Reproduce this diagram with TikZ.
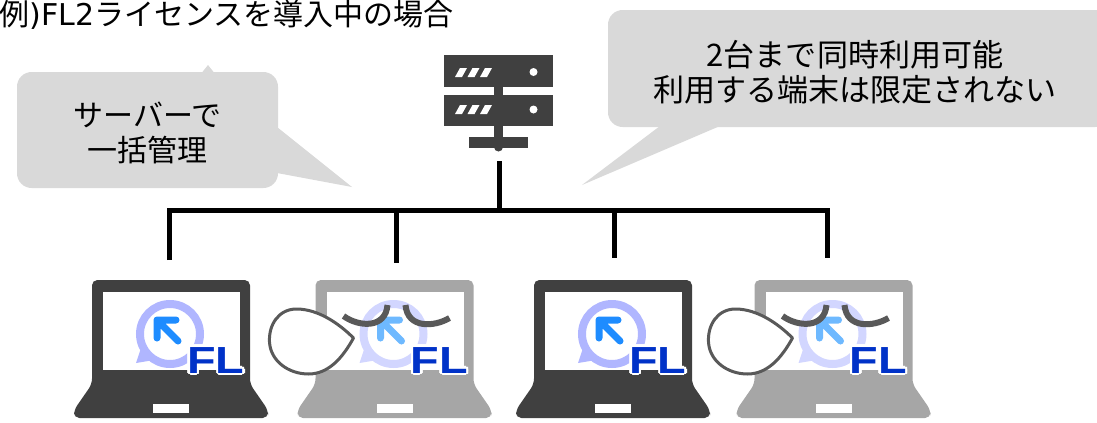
\documentclass[tikz,border=0pt]{standalone}
\usepackage{fontspec}
\usepackage{graphicx}
\newfontfamily\jpfont{Noto Sans CJK JP}
\newfontfamily\latinfont{DejaVu Sans}
\newfontfamily\logofont{Liberation Sans}

\definecolor{laptopdark}{RGB}{64,64,64}
\definecolor{laptoplight}{RGB}{166,166,166}
\definecolor{calloutgray}{RGB}{217,217,217}
\definecolor{sleepgray}{RGB}{89,89,89}
\definecolor{ringblue}{RGB}{176,182,255}
\definecolor{ringfaint}{RGB}{210,214,255}
\definecolor{arrowblue}{RGB}{30,140,255}
\definecolor{arrowfaint}{RGB}{110,185,255}
\definecolor{flblue}{RGB}{0,50,200}

\tikzset{
  wire/.style={line width=3.75pt, black, line join=miter},
  jptext/.style={font=\jpfont\fontsize{22.5}{26.6}\selectfont, inner sep=0pt, text=black},
  jptextlarge/.style={font=\jpfont\fontsize{23.3}{26.6}\selectfont, inner sep=0pt, text=black},
  callout/.style={fill=calloutgray},
  fltext/.style={anchor=base west, inner sep=0pt,
    font=\logofont\bfseries\fontsize{28.3}{30}\selectfont},
  % laptop body; origin at (centre x, 0), y measured downwards
  pics/laptop/.style={code={
    \fill[#1, rounded corners=4pt] (-97,418) -- (-97,410) -- (-79,384) -- (-79,280)
      -- (79,280) -- (79,384) -- (97,410) -- (97,418) -- cycle;
    \fill[white] (-68,292) rectangle (69,370);
    \fill[white] (-18,404) rectangle (18,413);
  }},
  % FL application logo on the screen
  pics/fllogo/.style 2 args={code={
    \begin{scope}[shift={(-1,334)}]
      \draw[#1, line width=6pt] (0,0) circle (30);
      \fill[#1] (-28,11) -- (-16,26) -- (-34,29) -- cycle;
      \draw[#2, line width=5.25pt, line cap=round, line join=round]
        (6,-14) -- (-13,-14) -- (-13,4) (-13,-14) -- (8,7);
    \end{scope}
    \foreach \dx/\dy in {2.5/0,-2.5/0,0/2.5,0/-2.5,1.8/1.8,-1.8/1.8,1.8/-1.8,-1.8/-1.8}
      \node[fltext, text=white] at (16+\dx,373+\dy) {\scalebox{1.24}[1]{FL}};
    \node[fltext, text=flblue] at (16,373) {\scalebox{1.24}[1]{FL}};
  }},
  % closed eyes of an idle machine
  pics/sleepeyes/.style={code={
    \draw[sleepgray, line width=4.5pt]
      (-51,316) .. controls (-36,327) and (-9,329) .. (-7,305);
    \draw[sleepgray, line width=4.5pt]
      (11,305) .. controls (13,329) and (40,327) .. (55,318);
  }},
  % snore bubble
  pics/snore/.style={code={
    \draw[sleepgray, fill=white, line width=2.25pt, line join=round]
      (-41,338) .. controls (-55,324) and (-76,309) .. (-98,309)
      .. controls (-116,309) and (-126,325) .. (-125,342)
      .. controls (-124,361) and (-106,374) .. (-86,374)
      .. controls (-66,374) and (-52,358) .. (-41,338) -- cycle;
  }},
}

\begin{document}
\begin{tikzpicture}[x=0.75pt, y=-0.75pt]
  \useasboundingbox (0,0) rectangle (1097,422);

  % title
  \node[jptext, anchor=base east] (title) at (454,25.5)
    {例{\latinfont)FL2}ライセンスを導入中の場合};

  % callouts
  \fill[callout, rounded corners=11pt] (17,72) rectangle (278,188);
  \fill[callout] (202,72.5) -- (208,65) -- (214,72.5) -- cycle;
  \fill[callout] (277,127) -- (352,187) -- (277,173) -- cycle;
  \node[jptext, align=center] (lnote) at (147.5,133) {サーバーで\\一括管理};

  \fill[callout, rounded corners=11pt] (608,10) rectangle (1110,127);
  \fill[callout] (660,126) -- (582,185) -- (720,126) -- cycle;
  \node[jptextlarge, align=center] (rnote) at (855,72) {2台まで同時利用可能\\利用する端末は限定されない};

  % license server
  \fill[laptopdark] (444,55) rectangle (553,87);
  \fill[laptopdark] (444,95) rectangle (553,126);
  \fill[laptopdark] (494,86) rectangle (503,96);
  \fill[laptopdark] (494,125) rectangle (503,146);
  \fill[laptopdark] (469,137) rectangle (528,148);
  \fill[laptopdark] (498.5,147) circle (4.5);
  \foreach \sy in {68,105}
    \foreach \sx in {455,467.5,480}
      \fill[white] (\sx,\sy+9) -- (\sx+7,\sy+9) -- (\sx+12,\sy) -- (\sx+5,\sy) -- cycle;
  \fill[white] (533.5,72) circle (4);
  \fill[white] (533.5,109.5) circle (4);

  % network tree
  \coordinate (srvfoot) at (499,161);
  \coordinate (bus) at (499,210.5);
  \coordinate (pc1) at (169,260);
  \coordinate (pc2) at (396.5,263);
  \coordinate (pc3) at (614.5,258);
  \coordinate (pc4) at (827,258);
  \draw[wire] (srvfoot) -- (bus);
  \draw[wire] (pc1) -- (pc1 |- bus) -- (pc4 |- bus) -- (pc4);
  \draw[wire] (pc2 |- bus) -- (pc2);
  \draw[wire] (pc3 |- bus) -- (pc3);

  % client laptops
  \pic at (171,0) {laptop=laptopdark};
  \pic at (171,0) {fllogo={ringblue}{arrowblue}};

  \pic at (394.5,0) {laptop=laptoplight};
  \pic at (394.5,0) {fllogo={ringfaint}{arrowfaint}};
  \pic at (394.5,0) {sleepeyes};
  \pic at (394.5,0) {snore};

  \pic at (613,0) {laptop=laptopdark};
  \pic at (613,0) {fllogo={ringblue}{arrowblue}};

  \pic at (833.5,0) {laptop=laptoplight};
  \pic at (833.5,0) {fllogo={ringfaint}{arrowfaint}};
  \pic at (833.5,0) {sleepeyes};
  \pic at (833.5,0) {snore};
\end{tikzpicture}
\end{document}
